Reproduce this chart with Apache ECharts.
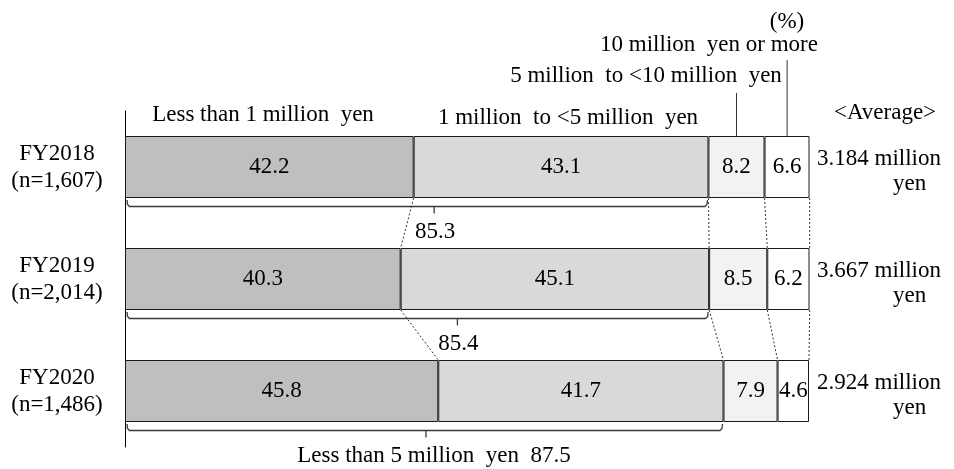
<!DOCTYPE html>
<html>
<head>
<meta charset="utf-8">
<script src="https://cdn.jsdelivr.net/npm/echarts@6/dist/echarts.min.js"></script>
<style>
  html, body { margin: 0; padding: 0; background: #fff; }
  #chart { width: 954px; height: 469px; }
</style>
</head>
<body>
<div id="chart"></div>
<script>
// ---- data ----
const categories = ['FY2018', 'FY2019', 'FY2020'];
const sampleSizes = ['1,607', '2,014', '1,486'];
const averages = ['3.184', '3.667', '2.924'];
const seriesNames = [
  'Less than 1 million  yen',
  '1 million  to <5 million  yen',
  '5 million  to <10 million  yen',
  '10 million  yen or more'
];
const lessThan1M = [42.2, 40.3, 45.8];
const from1To5M = [43.1, 45.1, 41.7];
const from5To10M = [8.2, 8.5, 7.9];
const over10M = [6.6, 6.2, 4.6];

// ---- layout / style ----
const FONT = '"Liberation Serif", "Times New Roman", serif';
const FS = 23;
const BAR_W = 62;
const COLORS = ['#bfbfbf', '#d9d9d9', '#f2f2f2', '#ffffff'];
const BRACE_TIP = [45.2, 48.6, 44.0];   // where each brace points, in axis units
const BRACE_TEXT_SHIFT = [1, 1, 8];     // px nudge of each brace caption

const segments = [lessThan1M, from1To5M, from5To10M, over10M];
// running totals at each segment boundary, per category
const cumulative = segments.map((_, k) =>
  categories.map((__, i) => {
    let s = 0;
    for (let j = 0; j <= k; j++) s += segments[j][i];
    return Math.round(s * 10) / 10;
  })
);
const under5M = cumulative[1];

const chart = echarts.init(document.getElementById('chart'), null, { renderer: 'canvas' });

const font = FS + 'px ' + FONT;
function textEl(text, x, y, align) {
  return {
    type: 'text',
    style: {
      text, x, y, font, fill: '#000',
      align: align || 'center', verticalAlign: 'middle',
      textAlign: align || 'center', textVerticalAlign: 'middle'
    }
  };
}

const barSeries = segments.map((vals, k) => ({
  name: seriesNames[k],
  type: 'bar',
  stack: 'total',
  barWidth: BAR_W,
  data: vals,
  itemStyle: { color: COLORS[k], borderColor: '#1a1a1a', borderWidth: 1 },
  label: {
    show: true,
    position: 'inside',
    formatter: p => p.value.toFixed(1),
    color: '#000',
    fontFamily: FONT,
    fontSize: FS
  },
  emphasis: { disabled: true },
  z: 3
}));

// dotted lines joining segment boundaries of neighbouring bars
const connectorSeries = {
  type: 'custom',
  silent: true,
  z: 2,
  data: [[0, 0], [0, 1]],
  renderItem: (params, api) => {
    const i = api.value(1);
    const children = [];
    for (let k = 0; k < 4; k++) {
      const a = api.coord([cumulative[k][i], i]);
      const b = api.coord([cumulative[k][i + 1], i + 1]);
      children.push({
        type: 'line',
        shape: { x1: a[0], y1: a[1] + BAR_W / 2, x2: b[0], y2: b[1] - BAR_W / 2 },
        style: { stroke: '#333', lineWidth: 1, lineDash: [2, 2] }
      });
    }
    return { type: 'group', children };
  }
};

// braces under each bar spanning the "less than 5 million yen" share
const braceSeries = {
  type: 'custom',
  silent: true,
  z: 4,
  data: [[0, 0], [0, 1], [0, 2]],
  renderItem: (params, api) => {
    const i = api.value(1);
    const p0 = api.coord([0, i]);
    const p1 = api.coord([under5M[i], i]);
    const tip = api.coord([BRACE_TIP[i], i]);
    const b = p0[1] + BAR_W / 2;
    const x0 = p0[0] + 2, x1 = p1[0] - 1, h = b + 8.5;
    const txt = i === categories.length - 1
      ? 'Less than 5 million  yen  ' + under5M[i].toFixed(1)
      : under5M[i].toFixed(1);
    return {
      type: 'group',
      children: [
        {
          type: 'polyline',
          shape: { points: [[x0, b + 2], [x0 + 0.5, h - 2], [x0 + 2.5, h], [x1 - 2.5, h], [x1 - 0.5, h - 2], [x1, b + 2]] },
          style: { stroke: '#3a3a3a', lineWidth: 1.3, fill: null }
        },
        {
          type: 'line',
          shape: { x1: tip[0], y1: h, x2: tip[0], y2: h + 7 },
          style: { stroke: '#3a3a3a', lineWidth: 1.3 }
        },
        textEl(txt, tip[0] + BRACE_TEXT_SHIFT[i], b + 34)
      ]
    };
  }
};

// average income beside each bar
const averageSeries = {
  type: 'custom',
  silent: true,
  z: 4,
  data: [[0, 0], [0, 1], [0, 2]],
  renderItem: (params, api) => {
    const i = api.value(1);
    const p = api.coord([100, i]);
    return {
      type: 'group',
      children: [
        textEl(averages[i] + ' million', p[0] + 8, p[1] - 8, 'left'),
        textEl('yen', p[0] + 84, p[1] + 17, 'left')
      ]
    };
  }
};

// leader lines from the two narrow segments of the first bar up to their names
const leaderSeries = {
  type: 'custom',
  silent: true,
  z: 4,
  data: [[0, 0]],
  renderItem: (params, api) => {
    const tops = [93, 60];
    const children = [2, 3].map((k, n) => {
      const mid = cumulative[k][0] - segments[k][0] / 2;
      const p = api.coord([mid, 0]);
      return {
        type: 'line',
        shape: { x1: p[0], y1: p[1] - BAR_W / 2, x2: p[0], y2: tops[n] },
        style: { stroke: '#333', lineWidth: 1 }
      };
    });
    return { type: 'group', children };
  }
};

function label(text, x, y, align) {
  return {
    type: 'text', x, y,
    style: {
      text, font, fill: '#000',
      textAlign: align || 'center', textVerticalAlign: 'middle'
    }
  };
}

chart.setOption({
  animation: false,
  backgroundColor: '#fff',
  grid: { left: 125, right: 145, top: 111, height: 336, containLabel: false },
  xAxis: { type: 'value', min: 0, max: 100, show: false },
  yAxis: {
    type: 'category',
    data: categories,
    inverse: true,
    axisLine: { show: true, lineStyle: { color: '#000', width: 1 } },
    axisTick: { show: false },
    splitLine: { show: false },
    axisLabel: {
      margin: 68,
      align: 'center',
      lineHeight: 27,
      color: '#000',
      fontFamily: FONT,
      fontSize: FS,
      formatter: (v, idx) => v + '\n(n=' + sampleSizes[idx] + ')'
    }
  },
  graphic: [
    label('(%)', 787, 22),
    label(seriesNames[3], 709, 45),
    label(seriesNames[2], 646, 76),
    label(seriesNames[1], 568, 118),
    label(seriesNames[0], 263, 115),
    label('<Average>', 885, 113)
  ],
  series: [...barSeries, connectorSeries, braceSeries, averageSeries, leaderSeries]
});
</script>
</body>
</html>
